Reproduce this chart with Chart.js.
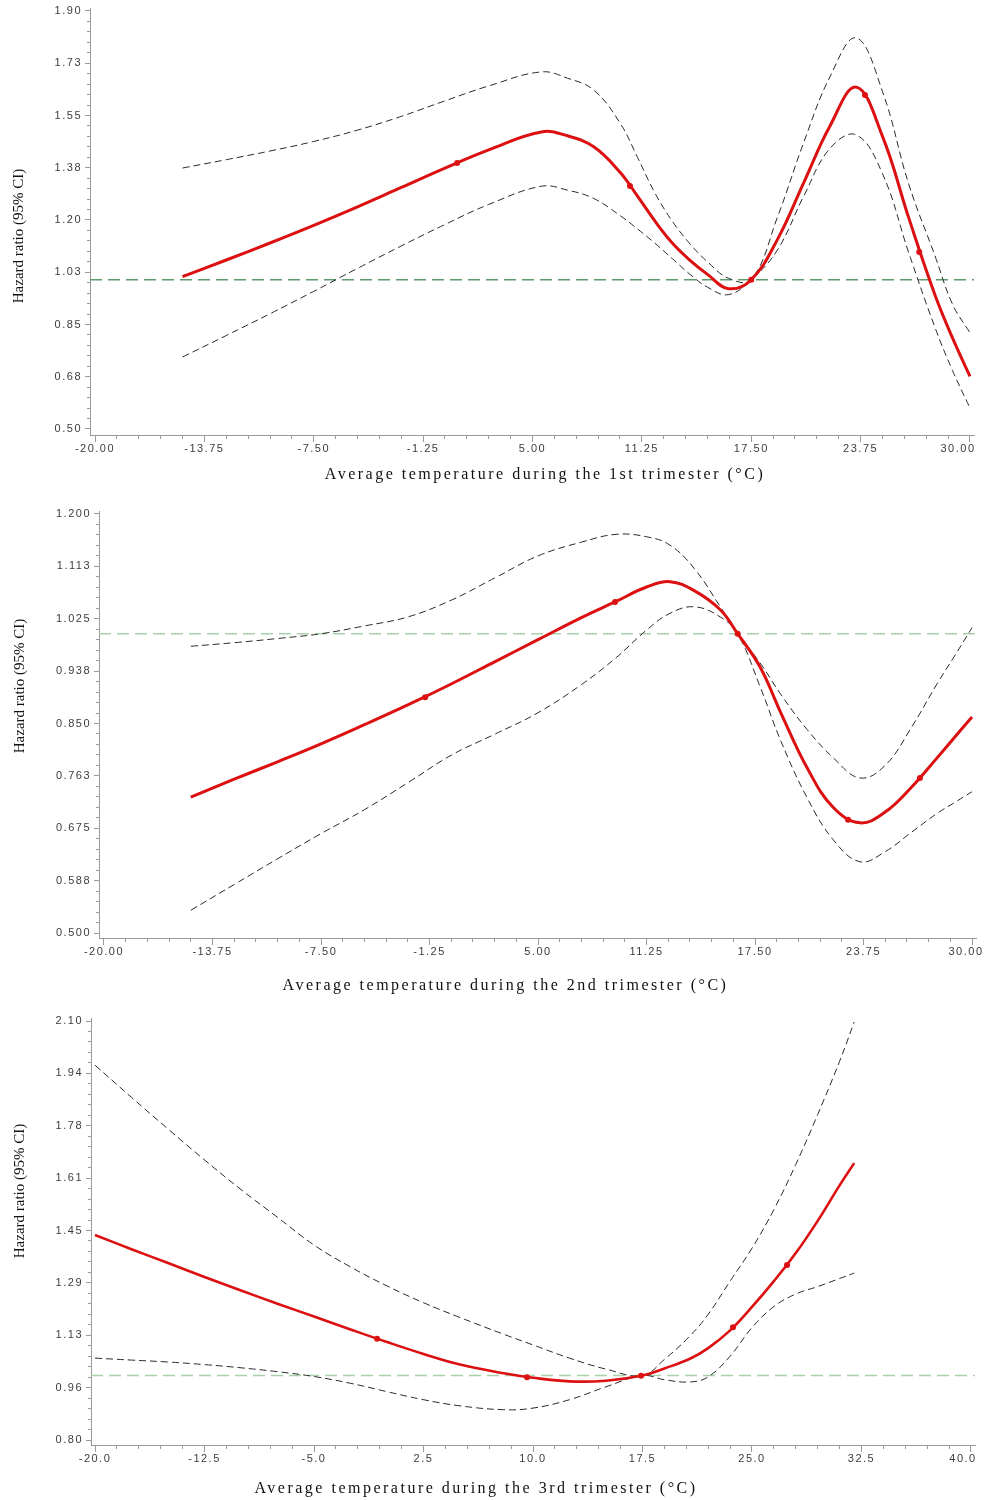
<!DOCTYPE html>
<html>
<head>
<meta charset="utf-8">
<title>Hazard ratio by average temperature per trimester</title>
<script src="https://cdn.jsdelivr.net/npm/chart.js@4/dist/chart.umd.min.js"></script>
<style>
  body { margin: 0; background: #fff; }
  canvas { display: block; }
</style>
</head>
<body>
<canvas id="p1" width="987" height="490"></canvas>
<canvas id="p2" width="987" height="510"></canvas>
<canvas id="p3" width="987" height="500"></canvas>
<script>
// reference hazard ratio (dashed green line)
const REF_HR = 1.0;

// ---- 1st trimester ----
const t1  = [-15, -12.5, -10, -7.5, -5, -2.5, 0, 2.5, 5.5, 7, 8.5, 10, 11, 12, 13, 14, 15, 16.2, 17.5, 19, 20.5, 22, 23.5, 25, 26.5, 28, 29, 30];
const hr1 = [1.010, 1.066, 1.123, 1.182, 1.244, 1.309, 1.374, 1.435, 1.495, 1.482, 1.445, 1.360, 1.280, 1.196, 1.122, 1.065, 1.018, 0.970, 1.000, 1.135, 1.325, 1.515, 1.645, 1.480, 1.207, 0.949, 0.805, 0.676];
const hi1 = [1.374, 1.402, 1.431, 1.463, 1.501, 1.547, 1.599, 1.649, 1.696, 1.675, 1.635, 1.525, 1.410, 1.290, 1.195, 1.120, 1.060, 1.005, 1.000, 1.210, 1.460, 1.680, 1.810, 1.630, 1.320, 1.080, 0.918, 0.822];
const lo1 = [0.741, 0.813, 0.886, 0.961, 1.038, 1.113, 1.185, 1.252, 1.313, 1.300, 1.272, 1.215, 1.170, 1.122, 1.070, 1.018, 0.975, 0.950, 1.000, 1.100, 1.280, 1.440, 1.485, 1.355, 1.090, 0.840, 0.696, 0.570];
const markT1  = [0.69, 10.57, 17.5, 24.0, 27.1];
const markHR1 = [1.391, 1.314, 1.000, 1.619, 1.093];
const xTicks1  = [-20, -13.75, -7.5, -1.25, 5, 11.25, 17.5, 23.75, 30];
const xLabels1 = ['-20.00', '-13.75', '-7.50', '-1.25', '5.00', '11.25', '17.50', '23.75', '30.00'];
const yTicks1  = [0.5, 0.675, 0.85, 1.025, 1.2, 1.375, 1.55, 1.725, 1.9];
const yLabels1 = ['0.50', '0.68', '0.85', '1.03', '1.20', '1.38', '1.55', '1.73', '1.90'];

// ---- 2nd trimester ----
const t2  = [-15, -12.5, -10, -7.5, -5, -2.5, 0, 2.5, 5, 7.5, 9.5, 11.25, 12.6, 14, 15.5, 16.5, 17.8, 19, 20.5, 22, 23.55, 25, 26.5, 28, 29, 30];
const hr2 = [0.727, 0.757, 0.786, 0.816, 0.848, 0.881, 0.916, 0.953, 0.990, 1.027, 1.054, 1.078, 1.087, 1.072, 1.040, 1.000, 0.944, 0.867, 0.776, 0.710, 0.684, 0.702, 0.743, 0.793, 0.827, 0.861];
const hi2 = [0.979, 0.985, 0.992, 1.000, 1.013, 1.028, 1.056, 1.093, 1.130, 1.153, 1.166, 1.162, 1.148, 1.109, 1.045, 1.000, 0.951, 0.898, 0.840, 0.793, 0.759, 0.780, 0.843, 0.917, 0.963, 1.010];
const lo2 = [0.538, 0.581, 0.624, 0.666, 0.706, 0.751, 0.797, 0.832, 0.868, 0.915, 0.960, 1.006, 1.034, 1.045, 1.028, 1.000, 0.911, 0.820, 0.726, 0.656, 0.619, 0.636, 0.668, 0.700, 0.718, 0.736];
const markT2  = [-1.5, 9.44, 16.5, 22.86, 27.0];
const markHR2 = [0.894, 1.053, 1.000, 0.689, 0.759];
const xTicks2  = [-20, -13.75, -7.5, -1.25, 5, 11.25, 17.5, 23.75, 30];
const xLabels2 = ['-20.00', '-13.75', '-7.50', '-1.25', '5.00', '11.25', '17.50', '23.75', '30.00'];
const yTicks2  = [0.5, 0.5875, 0.675, 0.7625, 0.85, 0.9375, 1.025, 1.1125, 1.2];
const yLabels2 = ['0.500', '0.588', '0.675', '0.763', '0.850', '0.938', '1.025', '1.113', '1.200'];

// ---- 3rd trimester ----
const t3  = [-20, -17.5, -15, -12.5, -10, -7.5, -5, -2.5, 0, 2.5, 5, 8, 10, 12.5, 15, 17.5, 19, 20.75, 22, 23.5, 25, 26.5, 28, 29.5, 31, 32];
const hr3 = [1.436, 1.392, 1.349, 1.306, 1.264, 1.223, 1.183, 1.143, 1.104, 1.067, 1.034, 1.007, 0.993, 0.982, 0.984, 1.000, 1.022, 1.052, 1.085, 1.140, 1.213, 1.293, 1.380, 1.480, 1.590, 1.659];
const hi3 = [1.963, 1.863, 1.765, 1.669, 1.577, 1.491, 1.405, 1.337, 1.278, 1.226, 1.180, 1.128, 1.095, 1.054, 1.020, 1.000, 1.050, 1.123, 1.190, 1.293, 1.395, 1.515, 1.655, 1.810, 1.975, 2.097];
const lo3 = [1.054, 1.048, 1.042, 1.034, 1.024, 1.012, 0.997, 0.976, 0.950, 0.925, 0.906, 0.894, 0.899, 0.925, 0.965, 1.000, 0.987, 0.980, 0.996, 1.060, 1.149, 1.214, 1.253, 1.276, 1.301, 1.318];
const markT3  = [-0.68, 9.59, 17.4, 23.7, 27.4];
const markHR3 = [1.114, 0.995, 0.999, 1.150, 1.343];
const xTicks3  = [-20, -12.5, -5, 2.5, 10, 17.5, 25, 32.5, 40];
const xLabels3 = ['-20.0', '-12.5', '-5.0', '2.5', '10.0', '17.5', '25.0', '32.5', '40.0'];
const yTicks3  = [0.8, 0.9625, 1.125, 1.2875, 1.45, 1.6125, 1.775, 1.9375, 2.1];
const yLabels3 = ['0.80', '0.96', '1.13', '1.29', '1.45', '1.61', '1.78', '1.94', '2.10'];

const RED = '#dc1010';

// linear scale with SAS-like spaced tick labels and a movable title
class SasScale extends Chart.LinearScale {
  _computeLabelItems(area) {
    const items = super._computeLabelItems(area);
    const shift = this.options.ticks.lastShift || 0;
    if (items.length && shift) items[items.length - 1].options.translation[0] += shift;
    return items;
  }
  drawLabels(area) {
    const ctx = this.ctx;
    ctx.save();
    ctx.letterSpacing = '1.5px';
    super.drawLabels(area);
    ctx.restore();
  }
  drawTitle() {
    const ctx = this.ctx;
    const t = this.options.title;
    ctx.save();
    ctx.letterSpacing = t.spacing || '0px';
    ctx.translate(t.shiftX || 0, t.shiftY || 0);
    super.drawTitle();
    ctx.restore();
  }
}
SasScale.id = 'sas';
SasScale.defaults = {};
Chart.register(SasScale);

// major ticks plus 4 minor ones in between
function withMinors(majors, n) {
  const out = [];
  majors.forEach((v, i) => {
    out.push({ value: v, idx: i });
    if (i < majors.length - 1) {
      const step = (majors[i + 1] - v) / (n + 1);
      for (let k = 1; k <= n; k++) out.push({ value: v + k * step, minor: true });
    }
  });
  return out;
}

function axis(o) {
  return {
    type: 'sas',
    min: o.min,
    max: o.max,
    afterBuildTicks: s => { s.ticks = withMinors(o.ticks, 4); },
    afterFit: s => {
      if (o.width) s.width = o.width;
      if (o.height) s.height = o.height;
      s.paddingLeft = s.paddingRight = s.paddingTop = s.paddingBottom = 0;
    },
    border: { display: true, color: '#9a9a9a', width: 1 },
    grid: {
      drawOnChartArea: false,
      tickLength: o.tl,
      tickColor: '#9a9a9a',
      tickWidth: 1,
      tickBorderDash: c => (c.tick && c.tick.minor) ? o.minorDash : []
    },
    ticks: {
      autoSkip: false,
      maxRotation: 0,
      minRotation: 0,
      padding: o.pad,
      lastShift: o.lastShift || 0,
      color: '#3c3c3c',
      font: { family: 'Liberation Sans', size: 11 },
      callback: (v, i, ts) => ts[i].minor ? '' : o.labels[ts[i].idx]
    },
    title: {
      display: true,
      text: o.title,
      color: '#111',
      font: o.titleFont,
      padding: o.titlePad,
      shiftX: o.shiftX || 0,
      shiftY: o.shiftY || 0,
      spacing: o.spacing || '0px'
    }
  };
}

function panel(id, d) {
  const pts = (xs, ys) => xs.map((x, i) => ({ x: x, y: ys[i] }));
  const ci = { borderColor: '#2a2a2a', borderWidth: 1, borderDash: [7, 4], pointRadius: 0, tension: 0.4 };
  return new Chart(document.getElementById(id), {
    type: 'line',
    data: {
      datasets: [
        { data: pts(d.markT, d.markHR), showLine: false, pointRadius: 3, pointBackgroundColor: RED, pointBorderWidth: 0, order: 0 },
        { data: pts(d.t, d.hr), borderColor: RED, borderWidth: d.redW, pointRadius: 0, tension: 0.4, order: 1 },
        Object.assign({ data: pts(d.t, d.hi), order: 2 }, ci),
        Object.assign({ data: pts(d.t, d.lo), order: 3 }, ci),
        { data: [{ x: d.x.min, y: REF_HR }, { x: d.x.max, y: REF_HR }], borderColor: d.refColor, borderWidth: 1.4, borderDash: [12, 6], pointRadius: 0, order: 4 }
      ]
    },
    options: {
      responsive: false,
      animation: false,
      events: [],
      layout: { padding: { left: 0, top: d.top, right: 987 - d.right, bottom: 0 } },
      plugins: { legend: { display: false }, tooltip: { enabled: false } },
      scales: { x: axis(d.x), y: axis(d.y) }
    }
  });
}

const xTitleFont = { family: 'Liberation Serif', size: 16 };
const yTitleFont = { family: 'Liberation Serif', size: 15 };
const yTitle = 'Hazard ratio (95% CI)';

panel('p1', {
  t: t1, hr: hr1, hi: hi1, lo: lo1, markT: markT1, markHR: markHR1,
  redW: 3, refColor: '#5e9c6c', top: 8, right: 974,
  x: { min: -20.286, max: 30.229, ticks: xTicks1, labels: xLabels1, height: 55, tl: 7, pad: 0, minorDash: [3, 100], lastShift: -12,
       title: 'Average temperature during the 1st trimester (\u00B0C)', titleFont: xTitleFont, titlePad: { top: 0, bottom: 6 }, shiftX: 13, spacing: '2.5px' },
  y: { min: 0.4799, max: 1.9100, ticks: yTicks1, labels: yLabels1, width: 90, tl: 5, pad: 3, minorDash: [0, 2, 3, 100],
       title: yTitle, titleFont: yTitleFont, titlePad: { top: 10, bottom: 0 }, shiftY: 14.5 }
});

panel('p2', {
  t: t2, hr: hr2, hi: hi2, lo: lo2, markT: markT2, markHR: markHR2,
  redW: 3, refColor: '#a9d1a9', top: 21, right: 976,
  x: { min: -20.288, max: 30.230, ticks: xTicks2, labels: xLabels2, height: 62, tl: 7, pad: 0, minorDash: [3, 100], lastShift: -6,
       title: 'Average temperature during the 2nd trimester (\u00B0C)', titleFont: xTitleFont, titlePad: { top: 0, bottom: 5 }, shiftX: -32, spacing: '2.5px' },
  y: { min: 0.49165, max: 1.20501, ticks: yTicks2, labels: yLabels2, width: 99, tl: 5, pad: 3, minorDash: [0, 2, 3, 100],
       title: yTitle, titleFont: yTitleFont, titlePad: { top: 11, bottom: 0 }, shiftY: -38.5 }
});

panel('p3', {
  t: t3, hr: hr3, hi: hi3, lo: lo3, markT: markT3, markHR: markHR3,
  redW: 2.6, refColor: '#a9d1a9', top: 18, right: 975,
  x: { min: -20.274, max: 40.274, ticks: xTicks3, labels: xLabels3, height: 55, tl: 7, pad: 0, minorDash: [3, 100], lastShift: -8,
       title: 'Average temperature during the 3rd trimester (\u00B0C)', titleFont: xTitleFont, titlePad: { top: 0, bottom: 2 }, shiftX: -57, spacing: '2.5px' },
  y: { min: 0.78449, max: 2.10931, ticks: yTicks3, labels: yLabels3, width: 91, tl: 5, pad: 3, minorDash: [0, 2, 3, 100],
       title: yTitle, titleFont: yTitleFont, titlePad: { top: 11, bottom: 0 }, shiftY: -40.5 }
});
</script>
</body>
</html>
